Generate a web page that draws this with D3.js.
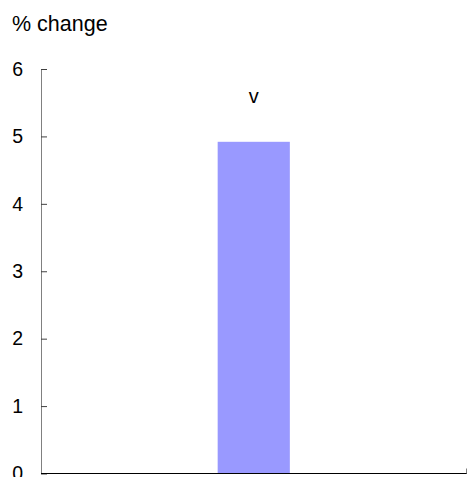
<!DOCTYPE html>
<html>
<head>
<meta charset="utf-8">
<script src="https://cdn.jsdelivr.net/npm/d3@7"></script>
<style>
  html, body { margin: 0; padding: 0; background: #fff; }
  svg { display: block; }
  text { font-family: "Liberation Sans", Arial, sans-serif; fill: #000; }
</style>
</head>
<body>
<svg id="chart" width="467" height="477"></svg>
<script>
// Data
const categories = ["v"];
const values = [4.92];
const yTicks = [0, 1, 2, 3, 4, 5, 6];
const yTitle = "% change";

const W = 467, H = 477;
const plot = { left: 41, right: 466.5, top: 69, bottom: 473.5 };

const svg = d3.select("#chart");

const x = d3.scaleBand()
  .domain(categories)
  .range([plot.left, plot.right])
  .paddingInner(0.71)
  .paddingOuter(0.71);

const y = d3.scaleLinear()
  .domain([0, 6])
  .range([plot.bottom, plot.top]);

// Bars
svg.append("g")
  .selectAll("rect")
  .data(values)
  .join("rect")
  .attr("x", (d, i) => x(categories[i]))
  .attr("y", d => y(d))
  .attr("width", x.bandwidth())
  .attr("height", d => y(0) - y(d))
  .attr("fill", "#9999ff");

// Y axis with inward ticks
const yAxis = svg.append("g")
  .attr("transform", `translate(${plot.left},0)`)
  .call(d3.axisLeft(y).tickValues(yTicks).tickFormat(d3.format("d"))
    .tickSizeInner(-6).tickSizeOuter(0).tickPadding(18));
yAxis.select(".domain").attr("stroke", "#808080");
yAxis.selectAll(".tick line").attr("stroke", "#404040");
yAxis.selectAll(".tick text")
  .attr("font-size", 19.5)
  .attr("font-family", "Liberation Sans, Arial, sans-serif");

// X axis baseline with a tick at the right end
const xg = svg.append("g");
xg.append("line")
  .attr("x1", plot.left).attr("x2", plot.right + 0.5)
  .attr("y1", y(0)).attr("y2", y(0))
  .attr("stroke", "#000").attr("stroke-width", 1);
xg.append("line")
  .attr("x1", plot.right).attr("x2", plot.right)
  .attr("y1", y(0)).attr("y2", y(0) - 5)
  .attr("stroke", "#808080");

// Category label above the bar
svg.append("g")
  .selectAll("text")
  .data(categories)
  .join("text")
  .attr("x", d => x(d) + x.bandwidth() / 2)
  .attr("y", y(5.5))
  .attr("text-anchor", "middle")
  .attr("font-size", 20)
  .text(d => d);

// Axis title
svg.append("text")
  .attr("x", 12)
  .attr("y", 31)
  .attr("font-size", 21.5)
  .text(yTitle);
</script>
</body>
</html>
